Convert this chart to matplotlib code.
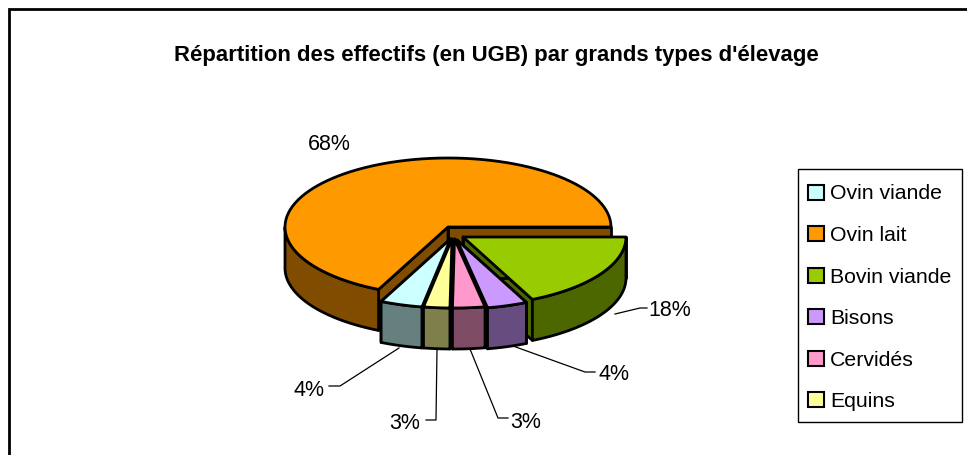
import numpy as np
import matplotlib
matplotlib.use("Agg")
import matplotlib.pyplot as plt
from matplotlib.patches import Polygon, Rectangle

plt.rcParams['font.family'] = ['Liberation Sans', 'DejaVu Sans']

title = "Répartition des effectifs (en UGB) par grands types d'élevage"
categories = ['Ovin viande', 'Ovin lait', 'Bovin viande', 'Bisons', 'Cervidés', 'Equins']
values = [4.2, 68, 18, 4, 3.2, 2.6]
top_colors = ['#CCFFFF', '#FF9900', '#99CC00', '#CC99FF', '#FF99CC', '#FFFF99']
side_colors = ['#667F7F', '#7F4C00', '#4C6600', '#664C7F', '#7F4C66', '#7F7F4C']

# layout, in picture pixels
centers = [(450.5, 240), (448, 228), (463, 238), (457, 241), (454.5, 240), (452, 240)]
draw_order = [1, 2, 0, 3, 5, 4]
rx, ry, depth = 163, 69, 41
label_pos = [(309, 391), (329, 145), (670, 311), (614, 375), (526, 423), (405, 424)]
leader_lines = [
    [(399, 349), (340, 387), (329, 387)],
    [],
    [(615, 315), (640, 309), (647, 309)],
    [(513, 347), (585, 373), (595, 373)],
    [(470, 350), (498, 419), (508, 419)],
    [(437, 350), (436, 421), (426, 421)],
]

fig = plt.figure(figsize=(9.67, 4.56), dpi=100)
ax = fig.add_axes([0, 0, 1, 1])
ax.set_xlim(0, 967)
ax.set_ylim(456, 0)
ax.axis('off')

# outer frame: only top and left are in the picture
ax.plot([8.5, 8.5, 967], [456, 10, 10], color='black', lw=2.0, solid_joinstyle='miter')

# slice angles, clockwise from the start of the first one
fracs = np.array(values) / sum(values) * 360
start = 244.8 + fracs[0]
ends = start - np.cumsum(fracs)
starts = ends + fracs


def rim(cx, cy, a0, a1, dy=0):
    t = np.radians(np.linspace(a0, a1, 90))
    return np.column_stack([cx + rx * np.cos(t), cy - ry * np.sin(t) + dy])


def draw_slice(i):
    cx, cy = centers[i]
    a0, a1 = ends[i], starts[i]
    tip = np.array([cx, cy])
    top_arc = rim(cx, cy, a0, a1)
    style = dict(edgecolor='black', lw=2.0, joinstyle='round')
    for pt in (top_arc[0], top_arc[-1]):
        face = np.array([tip, pt, pt + [0, depth], tip + [0, depth]])
        ax.add_patch(Polygon(face, facecolor=side_colors[i], **style))
    # outer wall, only the part turned towards the viewer
    t = np.linspace(a0, a1, 361)
    front = t[np.sin(np.radians(t)) < -1e-6]
    if len(front) > 1:
        up = rim(cx, cy, front[0], front[-1])
        wall = np.vstack([up, (up + [0, depth])[::-1]])
        ax.add_patch(Polygon(wall, facecolor=side_colors[i], **style))
    ax.add_patch(Polygon(np.vstack([tip, top_arc]), facecolor=top_colors[i], **style))


for i in draw_order:
    draw_slice(i)

# percent labels and leader lines
for i, v in enumerate(values):
    line = leader_lines[i]
    if line:
        ax.plot([p[0] for p in line], [p[1] for p in line], color='black', lw=0.9)
    ax.text(label_pos[i][0], label_pos[i][1], f"{v:.0f}%", fontsize=15.5,
            ha='center', va='center', color='black')

ax.text(496, 55, title, fontsize=15.9, fontweight='bold', ha='center', va='center')

# legend
ax.add_patch(Rectangle((797.5, 169.5), 164, 254, facecolor='white', edgecolor='black', lw=1))
for i, name in enumerate(categories):
    y = 193 + i * 41.6
    ax.add_patch(Rectangle((807.5, y - 7.5), 16, 15, facecolor=top_colors[i], edgecolor='black', lw=1.5))
    ax.text(830, y + 1, name, fontsize=15.3, ha='left', va='center')

fig.savefig('out.png', dpi=100)
plt.close(fig)
